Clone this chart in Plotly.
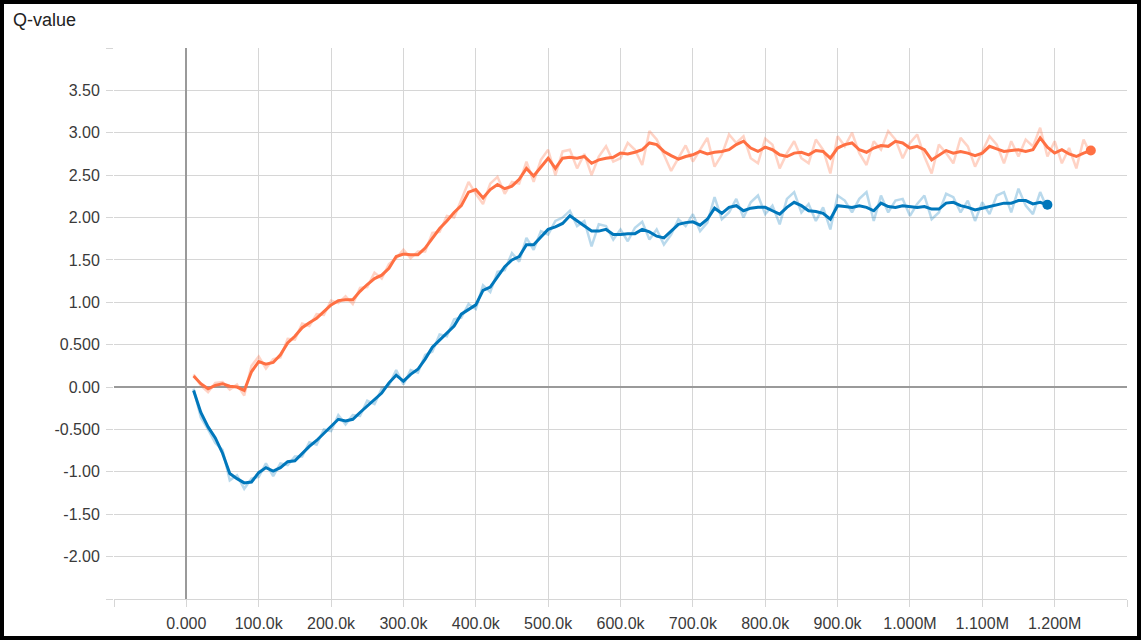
import plotly.graph_objects as go

# ---------------- data ----------------
orange_steps = list(range(10000, 1260000, 10000))   # 125 points
blue_steps = list(range(10000, 1200000, 10000))     # 119 points

orange_smooth = [
    0.13, 0.04, -0.02, 0.02, 0.04, 0.01, 0.00, -0.04, 0.18, 0.30,
    0.27, 0.29, 0.38, 0.52, 0.60, 0.70, 0.76, 0.81, 0.89, 0.97,
    1.02, 1.03, 1.03, 1.13, 1.21, 1.28, 1.32, 1.40, 1.54, 1.57,
    1.56, 1.56, 1.64, 1.76, 1.87, 1.96, 2.06, 2.14, 2.30, 2.33,
    2.23, 2.33, 2.39, 2.34, 2.37, 2.45, 2.58, 2.49, 2.60, 2.70,
    2.58, 2.70, 2.71, 2.70, 2.72, 2.64, 2.68, 2.70, 2.71, 2.76,
    2.75, 2.77, 2.80, 2.88, 2.86, 2.78, 2.73, 2.69, 2.72, 2.74,
    2.78, 2.75, 2.77, 2.78, 2.80, 2.86, 2.90, 2.82, 2.78, 2.83,
    2.80, 2.74, 2.72, 2.76, 2.77, 2.74, 2.79, 2.78, 2.70, 2.82,
    2.86, 2.88, 2.80, 2.77, 2.82, 2.85, 2.84, 2.90, 2.88, 2.82,
    2.84, 2.80, 2.68, 2.73, 2.79, 2.76, 2.78, 2.76, 2.73, 2.76,
    2.84, 2.81, 2.78, 2.79, 2.80, 2.78, 2.80, 2.94, 2.83, 2.76,
    2.80, 2.75, 2.72, 2.76, 2.79,
]

orange_raw = [
    0.15, 0.02, -0.06, 0.05, 0.06, -0.03, 0.03, -0.10, 0.25, 0.36,
    0.22, 0.33, 0.35, 0.57, 0.56, 0.75, 0.72, 0.86, 0.85, 1.02,
    0.99, 1.07, 0.98, 1.17, 1.18, 1.35, 1.28, 1.45, 1.52, 1.62,
    1.52, 1.60, 1.60, 1.82, 1.83, 2.02, 2.00, 2.20, 2.42, 2.28,
    2.16, 2.40, 2.48, 2.28, 2.42, 2.40, 2.66, 2.42, 2.68, 2.80,
    2.50, 2.78, 2.80, 2.58, 2.75, 2.50, 2.72, 2.84, 2.66, 2.70,
    2.88, 2.80, 2.62, 3.02, 2.92, 2.74, 2.55, 2.70, 2.85, 2.66,
    2.80, 2.94, 2.60, 2.74, 2.98, 2.88, 2.96, 2.70, 2.64, 2.93,
    2.86, 2.58, 2.76, 2.90, 2.70, 2.64, 2.92, 2.80, 2.52, 2.96,
    2.84, 3.00, 2.76, 2.62, 2.90, 2.80, 3.02, 2.92, 2.70, 2.88,
    2.98, 2.72, 2.52, 2.86, 2.76, 2.64, 2.94, 2.84, 2.60, 2.78,
    2.96, 2.86, 2.64, 2.90, 2.72, 2.92, 2.84, 3.06, 2.72, 2.90,
    2.64, 2.82, 2.58, 2.92, 2.74,
]

blue_smooth = [
    -0.04, -0.30, -0.47, -0.60, -0.78, -1.02, -1.08, -1.13, -1.12, -1.01,
    -0.95, -0.99, -0.95, -0.88, -0.87, -0.78, -0.70, -0.63, -0.55, -0.47,
    -0.38, -0.40, -0.38, -0.30, -0.22, -0.15, -0.07, 0.05, 0.14, 0.07,
    0.15, 0.21, 0.33, 0.47, 0.55, 0.64, 0.72, 0.86, 0.92, 0.97,
    1.14, 1.18, 1.30, 1.42, 1.50, 1.54, 1.68, 1.68, 1.77, 1.86,
    1.89, 1.93, 2.02, 1.96, 1.89, 1.84, 1.84, 1.86, 1.80, 1.80,
    1.81, 1.81, 1.86, 1.83, 1.78, 1.76, 1.84, 1.92, 1.94, 1.95,
    1.91, 1.98, 2.11, 2.05, 2.12, 2.14, 2.08, 2.11, 2.12, 2.12,
    2.08, 2.04, 2.12, 2.18, 2.14, 2.08, 2.07, 2.05, 1.98, 2.14,
    2.13, 2.12, 2.14, 2.12, 2.08, 2.17, 2.13, 2.12, 2.14, 2.13,
    2.12, 2.13, 2.10, 2.10, 2.17, 2.18, 2.14, 2.12, 2.09, 2.11,
    2.13, 2.15, 2.17, 2.17, 2.20, 2.20, 2.16, 2.18, 2.15,
]

blue_raw = [
    -0.02, -0.36, -0.50, -0.66, -0.74, -1.10, -1.04, -1.20, -1.08, -1.06,
    -0.90, -1.05, -0.90, -0.92, -0.82, -0.82, -0.65, -0.68, -0.50, -0.52,
    -0.33, -0.44, -0.33, -0.34, -0.16, -0.20, -0.02, 0.02, 0.20, 0.03,
    0.20, 0.17, 0.38, 0.42, 0.62, 0.60, 0.80, 0.82, 0.98, 0.92,
    1.20, 1.12, 1.36, 1.38, 1.58, 1.48, 1.76, 1.62, 1.84, 1.80,
    1.96, 2.00, 2.08, 1.90, 1.96, 1.66, 1.92, 1.90, 1.74, 1.86,
    1.72, 1.88, 1.95, 1.74, 1.86, 1.68, 1.80, 1.98, 1.90, 2.04,
    1.84, 1.94, 2.24, 1.98, 2.06, 2.22, 2.00, 2.18, 2.26, 2.04,
    2.14, 1.92, 2.22, 2.30, 2.06, 2.16, 1.96, 2.12, 1.86, 2.26,
    2.20, 2.06, 2.22, 2.30, 1.96, 2.26, 2.06, 2.20, 2.22, 2.02,
    2.16, 2.26, 1.98, 2.06, 2.28, 2.24, 2.06, 2.20, 1.96, 2.18,
    2.04, 2.26, 2.30, 2.06, 2.34, 2.14, 2.04, 2.30, 2.10,
]

x_tickvals = [-100000, 0, 100000, 200000, 300000, 400000, 500000, 600000,
              700000, 800000, 900000, 1000000, 1100000, 1200000, 1300000]
x_ticktext = ["", "0.000", "100.0k", "200.0k", "300.0k", "400.0k", "500.0k", "600.0k",
              "700.0k", "800.0k", "900.0k", "1.000M", "1.100M", "1.200M", ""]
y_tickvals = [-2.5, -2.0, -1.5, -1.0, -0.5, 0.0, 0.5, 1.0, 1.5, 2.0, 2.5, 3.0, 3.5, 4.0]
y_ticktext = ["", "-2.00", "-1.50", "-1.00", "-0.500", "0.00", "0.500", "1.00",
              "1.50", "2.00", "2.50", "3.00", "3.50", ""]

ORANGE = "#ff7043"
BLUE = "#0077bb"

# ---------------- figure ----------------
W, H = 1141, 640
L, R, T, B = 114, 14, 48, 41
PW, PH = W - L - R, H - T - B


def px_x(p):
    return (p - L) / PW


def px_y(p):
    return 1 - (p - T) / PH


fig = go.Figure()
fig.add_trace(go.Scatter(x=orange_steps, y=orange_raw, mode="lines",
                         line=dict(color=ORANGE, width=2.5), opacity=0.3,
                         hoverinfo="skip", showlegend=False))
fig.add_trace(go.Scatter(x=blue_steps, y=blue_raw, mode="lines",
                         line=dict(color=BLUE, width=2.5), opacity=0.27,
                         hoverinfo="skip", showlegend=False))
fig.add_trace(go.Scatter(x=orange_steps, y=orange_smooth, mode="lines",
                         line=dict(color=ORANGE, width=3), showlegend=False))
fig.add_trace(go.Scatter(x=blue_steps, y=blue_smooth, mode="lines",
                         line=dict(color=BLUE, width=3), showlegend=False))
fig.add_trace(go.Scatter(x=[orange_steps[-1]], y=[orange_smooth[-1]], mode="markers",
                         marker=dict(color=ORANGE, size=10), showlegend=False))
fig.add_trace(go.Scatter(x=[blue_steps[-1]], y=[blue_smooth[-1]], mode="markers",
                         marker=dict(color=BLUE, size=10), showlegend=False))

GRID = "#d6d6d6"
TICKFONT = dict(family="Arial, Liberation Sans, sans-serif", size=16, color="#3a3a3a")
fig.update_layout(
    width=W, height=H,
    margin=dict(l=L, r=R, t=T, b=B, pad=0, autoexpand=False),
    paper_bgcolor="white", plot_bgcolor="white",
    font=dict(family="Arial, Liberation Sans, sans-serif", size=16, color="#333333"),
    xaxis=dict(range=[-100000, 1300000], tickmode="array", tickvals=x_tickvals,
               ticktext=x_ticktext, showgrid=True, gridcolor=GRID, gridwidth=1,
               zeroline=True, zerolinecolor="#9a9a9a", zerolinewidth=2,
               showline=True, linecolor=GRID, linewidth=1, automargin=False,
               ticks="outside", ticklen=7, tickcolor=GRID, tickfont=TICKFONT,
               ticklabelstandoff=3),
    yaxis=dict(range=[-2.5, 4.0], tickmode="array", tickvals=y_tickvals,
               ticktext=y_ticktext, showgrid=True, gridcolor=GRID, gridwidth=1,
               zeroline=True, zerolinecolor="#9a9a9a", zerolinewidth=2,
               showline=False, ticks="outside", ticklen=7, tickcolor=GRID,
               automargin=False, tickfont=TICKFONT, ticklabelstandoff=3),
)

fig.add_annotation(text="Q-value", xref="paper", yref="paper",
                   x=px_x(11), y=px_y(20), xanchor="left", yanchor="middle",
                   showarrow=False,
                   font=dict(family="Arial, Liberation Sans, sans-serif", size=18, color="#222222"))

fig.add_shape(type="rect", xref="paper", yref="paper",
              x0=px_x(2), x1=px_x(W - 2), y0=px_y(H - 2), y1=px_y(2),
              line=dict(color="black", width=4), fillcolor="rgba(0,0,0,0)", layer="above")

fig.write_html("out.html",
               config={"displayModeBar": False},
               post_script="document.body.style.margin='0';document.body.style.padding='0';")
